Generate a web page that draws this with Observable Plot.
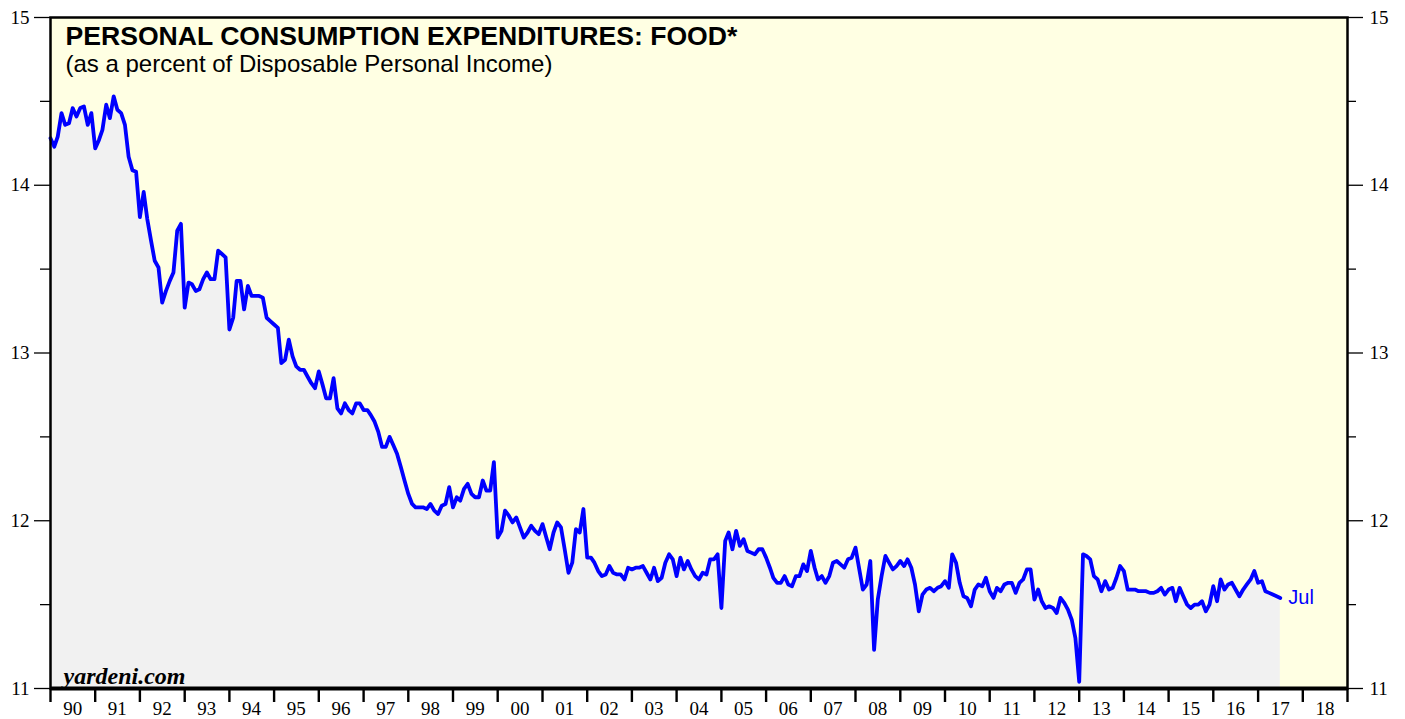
<!DOCTYPE html>
<html>
<head>
<meta charset="utf-8">
<script src="https://cdn.jsdelivr.net/npm/d3@7"></script>
<script src="https://cdn.jsdelivr.net/npm/@observablehq/plot@0.6"></script>
<style>
  html, body { margin: 0; padding: 0; background: white; }
  #chart { width: 1405px; height: 719px; overflow: hidden; }
</style>
</head>
<body>
<div id="chart"></div>
<script>
// ---- Data (monthly, % of disposable personal income) ----
const startYear = 1990;
const pce1990s = [
  14.28, 14.23, 14.29, 14.43, 14.36, 14.37, 14.46, 14.41, 14.46, 14.47, 14.36, 14.43,
  14.22, 14.27, 14.33, 14.48, 14.40, 14.53, 14.45, 14.43, 14.36, 14.17, 14.09, 14.08,
  13.81, 13.96, 13.80, 13.67, 13.55, 13.51, 13.30, 13.37, 13.43, 13.48, 13.73, 13.77,
  13.27, 13.42, 13.41, 13.37, 13.38, 13.44, 13.48, 13.44, 13.44, 13.61, 13.59, 13.57,
  13.14, 13.21, 13.43, 13.43, 13.26, 13.40, 13.34, 13.34, 13.34, 13.33, 13.21, 13.19,
  13.17, 13.15, 12.94, 12.96, 13.08, 12.98, 12.92, 12.90, 12.90, 12.86, 12.82, 12.79,
  12.89, 12.81, 12.73, 12.73, 12.85, 12.67, 12.64, 12.70, 12.66, 12.64, 12.70, 12.70,
  12.66, 12.66, 12.63, 12.59, 12.53, 12.44, 12.44, 12.50, 12.45, 12.40, 12.32, 12.24,
  12.16, 12.10, 12.08, 12.08, 12.08, 12.07, 12.10, 12.06, 12.04, 12.09, 12.10, 12.20,
  12.08, 12.14, 12.12, 12.19, 12.22, 12.16, 12.14, 12.14, 12.24, 12.18, 12.18, 12.35
];
const pce2000s = [
  11.90, 11.94, 12.06, 12.03, 11.99, 12.02, 11.96, 11.90, 11.93, 11.97, 11.94, 11.92,
  11.98, 11.90, 11.83, 11.93, 11.99, 11.96, 11.83, 11.69, 11.75, 11.95, 11.93, 12.07,
  11.78, 11.78, 11.75, 11.70, 11.67, 11.68, 11.73, 11.69, 11.68, 11.68, 11.65, 11.72,
  11.71, 11.72, 11.72, 11.73, 11.69, 11.65, 11.72, 11.64, 11.66, 11.75, 11.80, 11.77,
  11.67, 11.78, 11.71, 11.76, 11.71, 11.67, 11.65, 11.69, 11.68, 11.77, 11.77, 11.80,
  11.48, 11.88, 11.93, 11.83, 11.94, 11.85, 11.89, 11.82, 11.81, 11.80, 11.83, 11.83,
  11.78, 11.72, 11.66, 11.63, 11.63, 11.67, 11.62, 11.61, 11.67, 11.67, 11.74, 11.70,
  11.82, 11.72, 11.65, 11.67, 11.63, 11.67, 11.75, 11.76, 11.74, 11.72, 11.77, 11.78,
  11.84, 11.71, 11.59, 11.62, 11.76, 11.23, 11.53, 11.67, 11.79, 11.75, 11.71, 11.73,
  11.76, 11.73, 11.77, 11.72, 11.62, 11.46, 11.56, 11.59, 11.60, 11.58, 11.60, 11.61
];
const pce2010s = [
  11.64, 11.60, 11.80, 11.75, 11.63, 11.55, 11.54, 11.49, 11.59, 11.62, 11.61, 11.66,
  11.58, 11.54, 11.60, 11.58, 11.62, 11.63, 11.63, 11.57, 11.63, 11.65, 11.71, 11.71,
  11.53, 11.59, 11.52, 11.48, 11.49, 11.48, 11.45, 11.54, 11.51, 11.47, 11.41, 11.30,
  11.04, 11.80, 11.79, 11.77, 11.67, 11.65, 11.58, 11.64, 11.59, 11.60, 11.66, 11.73,
  11.70, 11.59, 11.59, 11.59, 11.58, 11.58, 11.58, 11.57, 11.57, 11.58, 11.60, 11.56,
  11.59, 11.60, 11.52, 11.60, 11.55, 11.50, 11.48, 11.50, 11.50, 11.52, 11.46, 11.50,
  11.61, 11.52, 11.65, 11.59, 11.62, 11.63, 11.59, 11.55, 11.59, 11.62, 11.65, 11.70,
  11.63, 11.64, 11.58, 11.57, 11.56, 11.55, 11.54
];
const yTicksMajor = [11, 12, 13, 14, 15];
const yTicksMinor = [11.5, 12.5, 13.5, 14.5];
const yearTickStart = 1990, yearTickEnd = 2019;
const titleText = "PERSONAL CONSUMPTION EXPENDITURES: FOOD*";
const subtitleText = "(as a percent of Disposable Personal Income)";
const sourceText = "yardeni.com";
const lastLabel = "Jul";

// ---- Build table ----
const values = [...pce1990s, ...pce2000s, ...pce2010s];
const data = values.map((v, i) => ({date: new Date(Date.UTC(startYear, i, 1)), value: v}));
const last = data[data.length - 1];
const yearStarts = d3.range(yearTickStart, yearTickEnd + 1).map(y => new Date(Date.UTC(y, 0, 1)));
const yearMids = d3.range(yearTickStart, yearTickEnd).map(y => new Date(Date.UTC(y, 6, 1)));

const serif = "'Liberation Serif', 'Times New Roman', serif";
const sans = "'Liberation Sans', Arial, Helvetica, sans-serif";

const chart = Plot.plot({
  width: 1405,
  height: 719,
  marginLeft: 50,
  marginRight: 58,
  marginTop: 17,
  marginBottom: 31,
  style: {fontFamily: serif, fontSize: "19px", background: "white", color: "black"},
  x: {type: "utc", domain: [yearStarts[0], yearStarts[yearStarts.length - 1]], label: null},
  y: {domain: [11, 15], label: null},
  marks: [
    Plot.frame({fill: "#ffffe3", stroke: null}),
    Plot.areaY(data, {x: "date", y1: 11, y2: "value", fill: "#f1f1f1"}),
    Plot.line(data, {x: "date", y: "value", stroke: "#0000ff", strokeWidth: 3.8, strokeLinejoin: "round"}),
    Plot.frame({stroke: "black", strokeWidth: 2.5}),
    Plot.ruleY([11], {stroke: "black", strokeWidth: 4}),
    // x axis: year boundary ticks and centred labels
    Plot.axisX({ticks: yearStarts, tickSize: 14, tickFormat: () => "", label: null, strokeWidth: 2.4, stroke: "black"}),
    Plot.axisX({ticks: yearMids, tickSize: 0, tickPadding: 13, label: null, tickFormat: d => d3.utcFormat("%y")(d), fontSize: 19, fontFamily: serif}),
    // left y axis
    Plot.axisY({anchor: "left", ticks: yTicksMajor, tickSize: 16, tickPadding: 5, label: null, tickFormat: d => String(d), fontSize: 19, strokeWidth: 1.3}),
    Plot.axisY({anchor: "left", ticks: yTicksMinor, tickSize: 10, label: null, tickFormat: () => "", strokeWidth: 1.3}),
    // right y axis
    Plot.axisY({anchor: "right", ticks: yTicksMajor, tickSize: 15, tickPadding: 7, label: null, tickFormat: d => String(d), fontSize: 19, strokeWidth: 1.3}),
    Plot.axisY({anchor: "right", ticks: yTicksMinor, tickSize: 8, label: null, tickFormat: () => "", strokeWidth: 1.3}),
    // texts
    Plot.text([titleText], {frameAnchor: "top-left", lineAnchor: "top", textAnchor: "start", dx: 15, dy: 9,
      fontFamily: sans, fontWeight: "bold", fontSize: 26.6, fill: "black"}),
    Plot.text([subtitleText], {frameAnchor: "top-left", lineAnchor: "top", textAnchor: "start", dx: 15, dy: 37,
      fontFamily: sans, fontSize: 24, fill: "black"}),
    Plot.text([sourceText], {frameAnchor: "bottom-left", lineAnchor: "bottom", textAnchor: "start", dx: 13, dy: -5,
      fontFamily: serif, fontWeight: "bold", fontStyle: "italic", fontSize: 24, fill: "black"}),
    Plot.text([last], {x: "date", y: "value", text: () => lastLabel, textAnchor: "start", dx: 8,
      fontFamily: sans, fontSize: 20, fill: "#0000ff"})
  ]
});
document.getElementById("chart").appendChild(chart);
</script>
</body>
</html>
